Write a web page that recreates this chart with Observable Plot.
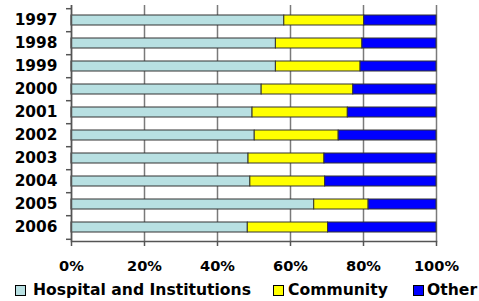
<!DOCTYPE html>
<html>
<head>
<meta charset="utf-8">
<script src="https://cdn.jsdelivr.net/npm/d3@7"></script>
<script src="https://cdn.jsdelivr.net/npm/@observablehq/plot@0.6"></script>
<style>
  html, body { margin: 0; padding: 0; background: #fff; }
  body { width: 479px; height: 301px; overflow: hidden; position: relative; font-family: "DejaVu Sans", Verdana, sans-serif; }
  #legend { position: absolute; left: 0; top: 280px; width: 479px; height: 20px; font-weight: bold; font-size: 15.6px; }
  .item { position: absolute; top: 0; display: flex; align-items: center; height: 20px; white-space: nowrap; }
  .sw { width: 9px; height: 9px; border: 1px solid #000; }
</style>
</head>
<body>
<div id="chart"></div>
<div id="legend"></div>
<script>
const years = ["1997","1998","1999","2000","2001","2002","2003","2004","2005","2006"];
const hospital = [58.3, 56.0, 56.0, 52.1, 49.6, 50.2, 48.5, 49.0, 66.5, 48.3];
const community = [21.9, 23.7, 23.2, 25.1, 26.1, 23.0, 20.8, 20.5, 14.9, 22.0];
const other = [19.8, 20.3, 20.8, 22.8, 24.3, 26.8, 30.7, 30.5, 18.6, 29.7];
const seriesNames = ["Hospital and Institutions", "Community", "Other"];
const seriesColors = ["#B8E0E2", "#FFFF00", "#0000FF"];
const xTicks = [0, 20, 40, 60, 80, 100];

const rows = [];
years.forEach((y, i) => {
  rows.push({year: y, series: seriesNames[0], value: hospital[i]});
  rows.push({year: y, series: seriesNames[1], value: community[i]});
  rows.push({year: y, series: seriesNames[2], value: other[i]});
});

const W = 479, H = 278, mT = 5, mB = 37, mL = 71, mR = 43;
const step = (H - mT - mB) / years.length;

const chart = Plot.plot({
  width: W, height: H,
  marginTop: mT, marginBottom: mB, marginLeft: mL, marginRight: mR,
  style: {fontFamily: "'DejaVu Sans', Verdana, sans-serif", fontWeight: "bold", background: "#fff"},
  x: {domain: [0, 100], ticks: xTicks, label: null},
  y: {domain: years, paddingInner: 0.58, paddingOuter: 0.29, align: 0.5, label: null},
  color: {domain: seriesNames, range: seriesColors},
  marks: [
    Plot.gridX(xTicks, {stroke: "#7a7a7a", strokeOpacity: 1, strokeWidth: 1.5}),
    Plot.barX(rows, Plot.stackX({x: "value", y: "year", fill: "series", order: seriesNames, stroke: "#333", strokeWidth: 1})),
    Plot.ruleX([0], {stroke: "#555", strokeWidth: 1.5}),
    Plot.frame({anchor: "bottom", stroke: "#555", strokeWidth: 1.5}),
    Plot.axisX(xTicks, {tickSize: 5, tickPadding: 14, tickFormat: d => d + "%", fontSize: 14.6, fontWeight: "bold", fill: "#000", stroke: "#555", strokeWidth: 1.5, label: null}),
    Plot.axisY({tickSize: 0, tickPadding: 14, fontSize: 15.4, fontWeight: "bold", fill: "#000", label: null}),
    Plot.axisY(years, {tickSize: 5, tickFormat: null, dy: -step / 2, stroke: "#555", strokeWidth: 1.5, label: null}),
    Plot.axisY(years.slice(-1), {tickSize: 5, tickFormat: null, dy: step / 2, stroke: "#555", strokeWidth: 1.5, label: null})
  ]
});
document.getElementById("chart").appendChild(chart);

const legend = document.getElementById("legend");
const lefts = [15, 273, 413];
const gaps = [7, 4, 3];
seriesNames.forEach((n, i) => {
  const it = document.createElement("div");
  it.className = "item";
  it.style.left = lefts[i] + "px";
  const sw = document.createElement("span");
  sw.className = "sw";
  sw.style.background = seriesColors[i];
  sw.style.marginRight = gaps[i] + "px";
  it.appendChild(sw);
  const t = document.createElement("span");
  t.textContent = n;
  it.appendChild(t);
  legend.appendChild(it);
});
</script>
</body>
</html>
